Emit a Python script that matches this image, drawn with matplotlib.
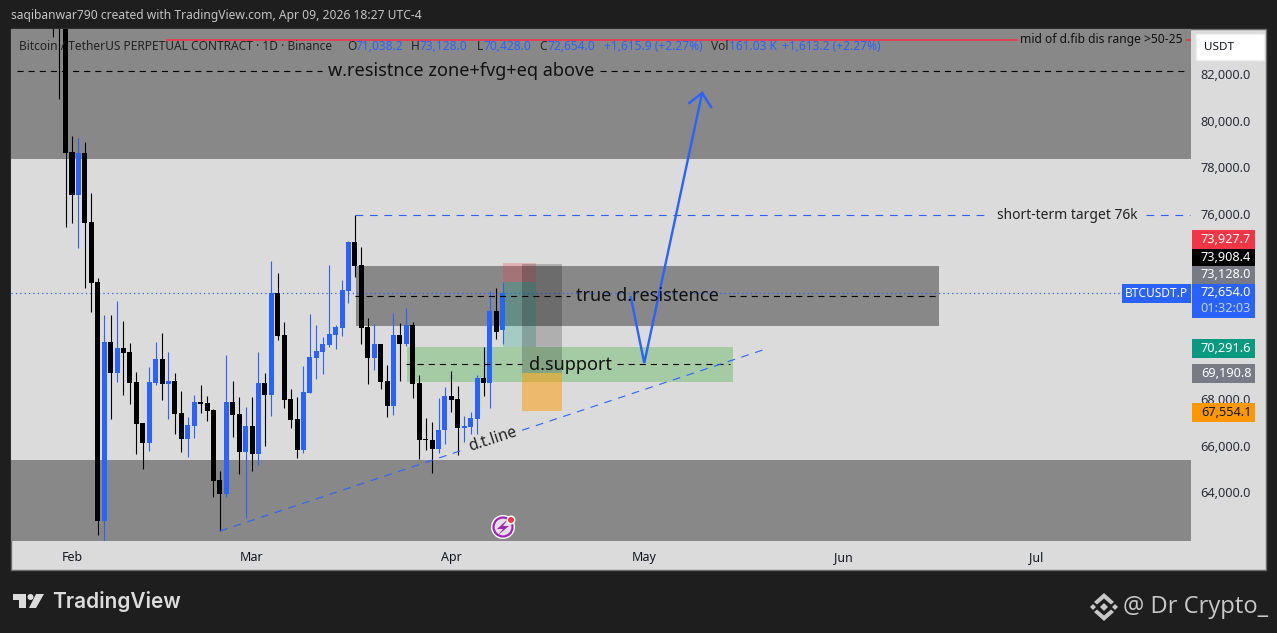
import matplotlib
matplotlib.use('Agg')
import matplotlib.pyplot as plt
from matplotlib.patches import Rectangle, Polygon, Circle
from matplotlib.transforms import ScaledTranslation

plt.rcParams['font.family'] = ['Noto Sans', 'DejaVu Sans']

# candles, one per day. day 0 is Feb 1
days = list(range(-3, 68))
opens = [
    90000, 88000, 84500,
    78720, 76860, 78670, 75700, 73110, 62810, 70530, 69190, 70270, 70100,
    68800, 67040, 66170, 68760, 69790, 68720, 68850, 67470, 66350, 66910,
    67940, 67900, 67600, 64580, 63980, 67940, 67420, 65790, 66910, 65700,
    68760, 68240, 72640, 70830, 68070, 67210, 65870, 68330, 69840, 70100,
    70400, 70830, 71130, 72730, 74840, 73850, 71170, 69840, 70440, 68850,
    67770, 70830, 70440, 71260, 68760, 66350, 66300, 65920, 66730, 68200,
    68070, 66820, 66860, 67210, 68980, 68760, 71860, 71038]
highs = [
    91000, 90000, 85000,
    79400, 79320, 79150, 76950, 73290, 71690, 71690, 72290, 71430, 70480,
    69230, 67040, 69450, 70530, 70910, 70100, 69190, 68420, 67290, 68240,
    68670, 68200, 67640, 64970, 69970, 68850, 68160, 67720, 68160, 70100,
    69190, 74020, 73500, 71390, 68500, 68160, 69490, 71730, 71260, 70740,
    73850, 71260, 73200, 74880, 76000, 74620, 71560, 71300, 70440, 69540,
    71780, 71350, 71990, 71390, 69100, 67250, 67080, 68110, 68590, 69280,
    68630, 67340, 67510, 69100, 70310, 72730, 72850, 73128]
lows = [
    83670, 81000, 75480,
    75660, 74580, 72850, 71820, 62210, 61900, 67210, 68800, 68240, 67860,
    65700, 65050, 65830, 68670, 68030, 67210, 66560, 65790, 65570, 66390,
    67470, 67120, 63850, 62380, 63850, 66430, 64840, 62940, 64970, 65230,
    66050, 67340, 70610, 67680, 66820, 65530, 65740, 68330, 68930, 69150,
    70310, 70230, 70790, 72210, 73330, 70440, 68720, 69320, 68500, 67290,
    67380, 68850, 70350, 68110, 65480, 65870, 64880, 65740, 66130, 67510,
    65660, 66220, 66560, 66560, 68200, 67680, 70660, 70428]
closes = [
    87000, 84500, 78670,
    76860, 78670, 75660, 73070, 62810, 70530, 69190, 70270, 70050, 68760,
    66990, 66170, 68800, 69790, 68720, 68850, 67420, 66350, 66950, 67940,
    67860, 67550, 64540, 63980, 67940, 67380, 65790, 66910, 65700, 68760,
    68240, 72640, 70790, 68030, 67170, 65870, 68370, 69880, 70140, 70440,
    70870, 71170, 72770, 74840, 73800, 71130, 69840, 70440, 68800, 67770,
    70830, 70440, 71260, 68720, 66300, 66300, 65920, 66730, 68200, 68030,
    66820, 66910, 67250, 68980, 68760, 71860, 70960, 72654]

month_days = [0, 28, 59, 89, 120, 150]
month_names = ['Feb', 'Mar', 'Apr', 'May', 'Jun', 'Jul']
# 70k, 72k and 74k sit behind the price tags in the original
price_ticks = [64000, 66000, 68000, 76000, 78000, 80000, 82000]

# drawings on the chart, [day, price]
trend_left = [[23, 61.1], [62380, 65900]]
trend_right = [[70, 107.9], [66723, 70225]]
arrow_days = [86.9, 89, 98]
arrow_prices = [72466, 69622, 81259]
arrow_head_days = [96, 98, 99.4]
arrow_head_prices = [80828, 81259, 80655]

# tags on the price scale: label, color, text color, top and bottom pixel
tag_labels = ['73,927.7', '73,908.4', '73,128.0', '70,291.6', '69,190.8', '67,554.1']
tag_colors = ['#f23645', '#000000', '#787b86', '#089981', '#787b86', '#ff9800']
tag_text = ['white', 'white', 'white', 'white', 'white', '#131722']
tag_tops = [230, 249, 266, 339, 364, 403]
tag_bottoms = [249, 266, 284, 358, 383, 422]

W, H = 1277, 633
DARK = '#1e1e1e'
PANE = '#dbdbdb'
ZONE = '#888888'
BLUE = '#2962ff'


def pane_rect(x0, y0, x1, y1):
    return [x0 / W, 1 - y1 / H, (x1 - x0) / W, (y1 - y0) / H]


fig = plt.figure(figsize=(12.77, 6.33), dpi=100, facecolor=DARK)

base = fig.add_axes([0, 0, 1, 1], zorder=0)
base.set_xlim(0, W)
base.set_ylim(H, 0)
base.axis('off')
base.add_patch(Rectangle((11, 29), 1255, 541, fc=PANE, ec='#6b6b6b', lw=1))

ax = fig.add_axes(pane_rect(11, 29, 1191, 541), zorder=1, facecolor=PANE)
ax.set_xlim(-9.487, 174.03)
ax.set_ylim(61950, 84017)
for s in ax.spines.values():
    s.set_visible(False)

ax.axhspan(78410, 84017, color=ZONE, lw=0, zorder=1)
ax.axhspan(61950, 65440, color=ZONE, lw=0, zorder=1)
ax.add_patch(Rectangle((44.2, 71217), 90.6, 2583, fc=ZONE, lw=0, zorder=1))
ax.add_patch(Rectangle((52.1, 68803), 50.7, 1508, fc='#a5cba5', lw=0, zorder=1))

# candles
for d, o, h, l, c in zip(days, opens, highs, lows, closes):
    col = BLUE if c > o else 'black'
    ax.vlines(d, l, h, color=col, lw=0.8, zorder=3)
    ax.bar(d, abs(c - o), bottom=min(o, c), width=0.78, color=col, lw=0, zorder=3)

# position tools
ax.add_patch(Rectangle((67.03, 73128), 5.17, 799.7, fc=(0.95, 0.21, 0.27, 0.25), lw=0, zorder=4))
ax.add_patch(Rectangle((67.03, 70291.6), 5.17, 2836.4, fc=(0.03, 0.6, 0.51, 0.25), lw=0, zorder=4))
ax.add_patch(Rectangle((70, 69190.8), 6.2, 4717.6, fc=(0, 0, 0, 0.2), lw=0, zorder=4))
ax.add_patch(Rectangle((70, 67554.1), 6.2, 1636.7, fc=(1, 0.6, 0, 0.5), lw=0, zorder=4))

# dashed levels
dash_k = dict(color='black', lw=0.8, dashes=(5.5, 4.5), zorder=5)
ax.plot([-8.6, 38.9], [82207, 82207], **dash_k)
ax.plot([82.1, 173.1], [82207, 82207], **dash_k)
ax.plot([44, 77.4], [72510, 72510], **dash_k)
ax.plot([102.2, 134.8], [72510, 72510], **dash_k)
ax.plot([51.9, 70], [69580, 69580], **dash_k)
ax.plot([84.8, 102.3], [69580, 69580], **dash_k)

dash_b = dict(color=BLUE, lw=0.8, dashes=(7, 6), zorder=5)
ax.plot([44, 142.8], [76000, 76000], **dash_b)
ax.plot([167, 173.9], [76000, 76000], **dash_b)
ax.plot(trend_left[0], trend_left[1], **dash_b)
ax.plot(trend_right[0], trend_right[1], **dash_b)

ax.axhline(72654, color=BLUE, lw=0.9, dashes=(1, 2.5), zorder=2)

ax.plot([14.8, 147], [83543, 83543], color='#f23645', lw=1.2, zorder=6)
ax.plot([173.4, 174.03], [83543, 83543], color='#f23645', lw=1.2, zorder=6)

ax.plot(arrow_days, arrow_prices, color=BLUE, lw=1.7, zorder=7, solid_joinstyle='miter')
ax.plot(arrow_head_days, arrow_head_prices, color=BLUE, lw=1.7, zorder=7, solid_joinstyle='miter')

ax.text(60.5, 82207, 'w.resistnce zone+fvg+eq above', fontsize=13, ha='center', va='center', zorder=8, color='#111111')
ax.text(89.5, 72500, 'true d.resistence', fontsize=13, ha='center', va='center', zorder=8, color='#111111')
ax.text(77.5, 69520, 'd.support', fontsize=13, ha='center', va='center', zorder=8, color='#111111')
ax.text(65.5, 66330, 'd.t.line', fontsize=11.2, rotation=18, ha='center', va='center',
        rotation_mode='anchor', zorder=8, color='#222222')
ax.text(147.4, 83543, 'mid of d.fib dis range >50-25', fontsize=8.7, ha='left', va='center', zorder=8, color='#111111')
ax.text(143.9, 76000, 'short-term target 76k', fontsize=10, ha='left', va='center', zorder=8, color='#222222')

# axes ticks
ax.yaxis.tick_right()
ax.set_yticks(price_ticks)
ax.set_yticklabels([f'{p:,.1f}' for p in price_ticks], fontsize=9.2, color='#2a2e39')
ax.tick_params(axis='y', length=0, pad=7)
nudge = ScaledTranslation(0, 1.5 / 100, fig.dpi_scale_trans)
for lbl in ax.get_yticklabels():
    lbl.set_transform(lbl.get_transform() + nudge)
ax.set_xticks(month_days)
ax.set_xticklabels(month_names, fontsize=9, color='#131722')
ax.tick_params(axis='x', length=0, pad=7)

# everything outside the pane, in pixels
ov = fig.add_axes([0, 0, 1, 1], zorder=2)
ov.set_xlim(0, W)
ov.set_ylim(H, 0)
ov.axis('off')
ov.patch.set_alpha(0)

ov.text(11, 16, 'saqibanwar790 created with TradingView.com, Apr 09, 2026 18:27 UTC-4',
        fontsize=8.7, color='#c4c4c4', va='center')

legend_parts = [
    (19, 'Bitcoin / TetherUS PERPETUAL CONTRACT · 1D · Binance', '#222222'),
    (347, 'O', '#222222'), (355, '71,038.2', BLUE),
    (411, 'H', '#222222'), (420, '73,128.0', BLUE),
    (477, 'L', '#222222'), (483, '70,428.0', BLUE),
    (539, 'C', '#222222'), (547, '72,654.0', BLUE),
    (604, '+1,615.9 (+2.27%)', BLUE),
    (711, 'Vol', '#222222'), (729, '161.03 K', BLUE),
    (782, '+1,613.2 (+2.27%)', BLUE),
]
for x, s, col in legend_parts:
    ov.text(x, 46, s, fontsize=8.6, color=col, va='center')

# price tags
for lab, col, tc, y0, y1 in zip(tag_labels, tag_colors, tag_text, tag_tops, tag_bottoms):
    ov.add_patch(Rectangle((1192, y0), 63, y1 - y0, fc=col, lw=0))
    ov.text(1226, (y0 + y1) / 2, lab, fontsize=9.2, color=tc, ha='center', va='center')

ov.add_patch(Rectangle((1192, 284), 63, 34, fc=BLUE, lw=0))
ov.text(1226, 293, '72,654.0', fontsize=9.2, color='white', ha='center', va='center')
ov.text(1226, 308, '01:32:03', fontsize=9.2, color='#c3d3ff', ha='center', va='center')
ov.add_patch(Rectangle((1122, 284), 69, 19, fc=BLUE, lw=0))
ov.text(1156, 293.5, 'BTCUSDT.P', fontsize=8.6, color='white', ha='center', va='center')

ov.add_patch(Rectangle((1196, 34), 68, 26, fc='white', ec='#f0f0f0', lw=1))
ov.text(1204, 47, 'USDT', fontsize=8.4, color='#131722', va='center')

# news icon
ov.add_patch(Circle((503, 527), 12, fc='white', lw=0))
ov.add_patch(Circle((503, 527), 9.5, fc='#e6dfe8', ec='#9c27b0', lw=1.6))
ov.add_patch(Polygon([(508, 519), (497, 529), (503, 529), (498, 535), (509, 526), (503, 526)], fc='#9c27b0', lw=0))
ov.add_patch(Circle((511, 520), 4.5, fc='white', lw=0))
ov.add_patch(Circle((511, 520), 3, fc='#f23645', lw=0))

# TradingView mark
mark = '#dcdcdc'
ov.add_patch(Polygon([(13, 594), (26, 594), (26, 608), (19, 608), (19, 600), (13, 600)], fc=mark, lw=0))
ov.add_patch(Circle((30.5, 597), 3, fc=mark, lw=0))
ov.add_patch(Polygon([(44, 594), (36, 608), (29, 608), (36, 594)], fc=mark, lw=0))
ov.text(52, 601, 'TradingView', fontsize=15, color=mark, fontweight='semibold', family='Inter', va='center')

# Binance style mark and signature
sig = '#c8c8c8'
cx, cy = 1104, 607
for sy in (-1, 1):
    ov.add_patch(Polygon([(cx, cy + sy * 14), (cx + 10, cy + sy * 5), (cx + 7, cy + sy * 2.5), (cx, cy + sy * 8.5),
                          (cx - 7, cy + sy * 2.5), (cx - 10, cy + sy * 5)], fc=sig, lw=0))
for dx, r in [(-11, 3), (0, 4), (11, 3)]:
    ov.add_patch(Polygon([(cx + dx - r, cy), (cx + dx, cy - r), (cx + dx + r, cy), (cx + dx, cy + r)], fc=sig, lw=0))
ov.text(1123, 607, '@ Dr Crypto_', fontsize=17.1, color=sig, family='Open Sans', va='center')

fig.savefig('out.png', dpi=100, facecolor=DARK)
